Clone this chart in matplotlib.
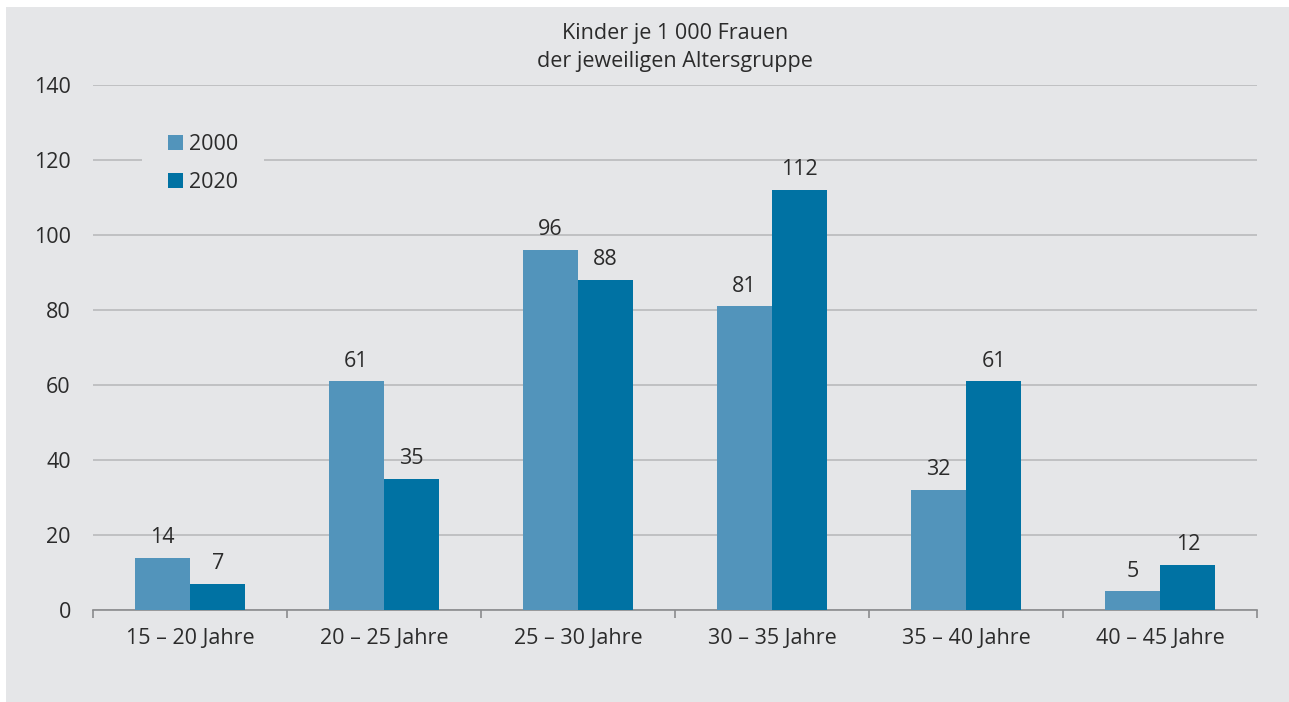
import matplotlib.pyplot as plt
from matplotlib.patches import Rectangle
import numpy as np

plt.rcParams['font.family'] = ['Open Sans', 'DejaVu Sans']

# Daten
kategorien = ["15 – 20 Jahre", "20 – 25 Jahre", "25 – 30 Jahre",
              "30 – 35 Jahre", "35 – 40 Jahre", "40 – 45 Jahre"]
werte_2000 = [14, 61, 96, 81, 32, 5]
werte_2020 = [7, 35, 88, 112, 61, 12]
jahre = ["2000", "2020"]

farbe_2000 = "#5294bb"
farbe_2020 = "#0072a3"
hintergrund = "#e5e6e8"
textfarbe = "#2b2b2b"
fs = 15.5

W, H = 1289, 702
fig = plt.figure(figsize=(W / 100, H / 100), dpi=100, facecolor="white")
# grauer Hintergrund mit schmalem weißen Rand oben/links
fig.patches.append(Rectangle((6 / W, 0), 1 - 6 / W, 1 - 7 / H, transform=fig.transFigure,
                             facecolor=hintergrund, edgecolor="none", zorder=-5))

ax = fig.add_axes([93 / W, 1 - 610 / H, (1257 - 93) / W, (610 - 85) / H])
ax.set_facecolor("none")
ax.set_zorder(2)

x = np.arange(len(kategorien))
bw = 0.286
b1 = ax.bar(x - bw / 2, werte_2000, bw, color=farbe_2000, zorder=3, label=jahre[0])
b2 = ax.bar(x + bw / 2, werte_2020, bw, color=farbe_2020, zorder=3, label=jahre[1])

for bars, werte in [(b1, werte_2000), (b2, werte_2020)]:
    for rect, v in zip(bars, werte):
        ax.annotate(str(v), (rect.get_x() + rect.get_width() / 2, v), xytext=(0, 7),
                    textcoords="offset points", ha="center", va="bottom",
                    fontsize=fs, color=textfarbe)

ax.set_xlim(-0.5, len(kategorien) - 0.5)
ax.set_ylim(0, 140)
ax.set_yticks(range(0, 141, 20))
ax.yaxis.grid(True, color="#b9babc", linewidth=1.2, zorder=0)
ax.set_axisbelow(True)

# x-Achse: Striche an den Gruppengrenzen, Beschriftung mittig
ax.set_xticks(np.arange(-0.5, len(kategorien), 1))
ax.set_xticklabels([])
ax.set_xticks(x, minor=True)
ax.set_xticklabels(kategorien, minor=True, fontsize=fs, color=textfarbe)
ax.tick_params(axis="x", which="major", length=6, width=1.2, color="#8a8b8d", direction="out")
ax.tick_params(axis="x", which="minor", length=0, pad=13)
ax.tick_params(axis="y", length=0, labelsize=fs, labelcolor=textfarbe, pad=16)

for s in ["top", "right", "left"]:
    ax.spines[s].set_visible(False)
ax.spines["bottom"].set_color("#8a8b8d")
ax.spines["bottom"].set_linewidth(1.2)

leg = ax.legend(loc="upper left", bbox_to_anchor=(0.042, 0.955), frameon=True,
                fontsize=fs, handlelength=0.7, handleheight=0.7, handletextpad=0.3,
                labelspacing=0.75, borderpad=1.2, borderaxespad=0)
leg.get_frame().set_facecolor(hintergrund)
leg.get_frame().set_edgecolor("none")
leg.get_frame().set_alpha(1)
for t in leg.get_texts():
    t.set_color(textfarbe)

fig.text(675 / W, 1 - 33 / H, "Kinder je 1 000 Frauen", ha="center", va="center",
         fontsize=fs, color=textfarbe)
fig.text(675 / W, 1 - 62 / H, "der jeweiligen Altersgruppe", ha="center", va="center",
         fontsize=fs, color=textfarbe)

plt.savefig("out.png", dpi=100, facecolor="white")
